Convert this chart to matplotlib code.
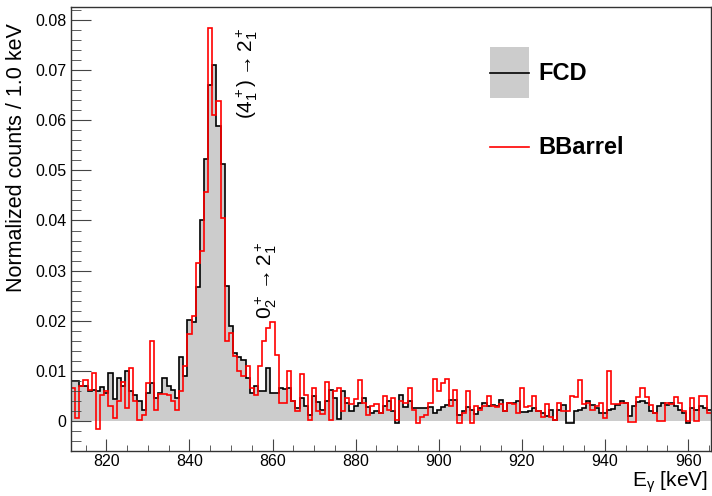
import numpy as np
import matplotlib
matplotlib.use('Agg')
import matplotlib.pyplot as plt
from matplotlib.ticker import MultipleLocator, FuncFormatter
from matplotlib.patches import Rectangle
from matplotlib.lines import Line2D

plt.rcParams['font.family'] = ['Liberation Sans', 'DejaVu Sans']
plt.rcParams['mathtext.fontset'] = 'custom'
plt.rcParams['mathtext.rm'] = 'Liberation Sans'
plt.rcParams['mathtext.it'] = 'Liberation Sans:italic'
plt.rcParams['mathtext.bf'] = 'Liberation Sans:bold'

# histogram range, 1 keV bins centred on 812 .. 965
E_LO, E_HI = 811.5, 965.5

# normalized counts per bin, in units of 1e-3
fcd = [
    7.9, 7.9, 7.0, 7.0, 6.0, 6.2, 5.9, 6.7, 5.5, 9.5,     # 812-821
    4.3, 8.5, 6.9, 9.9, 6.0, 5.2, 4.0, 2.2, 5.5, 7.5,     # 822-831
    4.5, 5.5, 8.5, 6.9, 6.2, 4.5, 12.8, 9.0, 20.1, 19.8,  # 832-841
    26.8, 40.0, 52.2, 67.0, 71.1, 58.9, 51.3, 27.0, 19.0, 13.5,  # 842-851
    12.8, 12.2, 8.5, 5.5, 7.0, 6.0, 6.0, 10.5, 5.5, 5.5,  # 852-861
    6.6, 6.3, 6.5, 4.0, 2.5, 4.5, 3.0, 1.2, 5.0, 3.8,     # 862-871
    2.2, 4.0, 6.2, 4.5, 0.3, 6.0, 3.5, 2.0, 3.0, 3.5,     # 872-881
    4.5, 2.8, 1.5, 2.0, 1.5, 3.0, 3.9, 2.0, -0.5, 5.2,    # 882-891
    2.7, 3.9, 2.5, 2.5, 2.5, 2.5, 2.7, 1.5, 2.2, 2.7,     # 892-901
    3.2, 4.1, 4.1, 1.2, 1.9, 2.7, 2.2, 1.4, 2.5, 3.5,     # 902-911
    2.9, 3.2, 2.9, 4.2, 1.9, 3.5, 3.5, 3.9, 1.7, 1.7,     # 912-921
    1.9, 2.5, 1.9, 1.5, 0.9, 2.2, 0.2, 2.2, 3.2, -0.5,    # 922-931
    -0.5, 1.9, 2.2, 2.5, 3.9, 3.2, 2.5, 1.5, 1.5, 2.2,    # 932-941
    2.3, 3.2, 3.9, 3.5, 0.9, 2.9, 3.7, 3.9, 3.5, 1.9,     # 942-951
    1.5, 2.9, 3.5, 3.2, 3.5, 2.9, 2.2, 1.5, -0.5, 2.5,    # 952-961
    2.2, 2.9, 2.5, 2.2,                                    # 962-965
]
bbarrel = [
    6.5, 0.5, 6.9, 8.2, 6.1, 9.5, -1.7, 5.2, 5.9, 2.9,    # 812-821
    0.5, 4.0, 7.7, 2.5, 10.5, 3.9, 0.1, 1.2, 7.5, 15.9,   # 822-831
    2.2, 5.3, 5.3, 5.2, 3.9, 2.2, 6.0, 10.9, 17.3, 21.0,  # 832-841
    31.5, 34.0, 45.6, 78.5, 61.0, 63.9, 40.5, 16.0, 17.5, 13.0,  # 842-851
    10.0, 8.9, 10.9, 6.6, 5.2, 10.9, 16.0, 18.5, 19.7, 13.2,     # 852-861
    3.5, 3.5, 9.9, 3.9, 1.9, 9.3, 5.2, 0.2, 6.5, 1.9,     # 862-871
    1.4, 7.7, 0.2, 5.9, 6.5, 1.9, 4.5, 3.4, 4.4, 8.2,     # 872-881
    3.5, 1.2, 2.9, 3.4, 1.5, 4.9, 2.2, 4.5, 0.2, 3.9,     # 882-891
    3.5, 6.5, 2.2, -0.5, 0.7, 1.2, 3.5, 8.3, 5.9, 7.5,    # 892-901
    8.3, 2.9, 6.1, -0.5, 1.5, 6.0, -0.5, 2.9, 2.2, 2.9,   # 902-911
    5.0, 3.0, 2.7, 3.4, 1.9, 3.5, 3.4, 1.5, 6.6, 2.7,     # 912-921
    2.9, 4.9, 1.9, 0.7, 3.4, 0.7, 0.2, 3.5, 1.9, 1.9,     # 922-931
    5.0, 4.8, 8.2, 3.4, 3.5, 2.2, 3.0, 3.5, 0.5, 9.9,     # 932-941
    3.4, 3.4, 3.5, 3.6, -0.3, -0.3, 4.8, 6.6, 4.8, 3.2,   # 942-951
    1.5, -0.1, -0.1, 3.5, 3.4, 4.8, 3.5, 1.9, -0.1, 4.5,  # 952-961
    -0.1, 5.0, 5.0, 1.5,                                   # 962-965
]

edges = np.arange(E_LO, E_HI + 0.5, 1.0)
fcd = np.array(fcd) * 1e-3
bbarrel = np.array(bbarrel) * 1e-3

fig = plt.figure(figsize=(7.12, 4.96), dpi=100)
ax = fig.add_axes([71 / 712, 45 / 496, 640 / 712, 444 / 496])

ax.stairs(fcd, edges, fill=True, color='#cccccc', baseline=0, lw=0)
ax.stairs(fcd, edges, color='black', lw=1.2, baseline=None)
ax.stairs(bbarrel, edges, color='red', lw=1.2, baseline=None)

ax.set_xlim(E_LO, E_HI)
ax.set_ylim(-0.006, 0.0826)

ax.xaxis.set_major_locator(MultipleLocator(20))
ax.xaxis.set_minor_locator(MultipleLocator(5))
ax.yaxis.set_major_locator(MultipleLocator(0.01))
ax.yaxis.set_minor_locator(MultipleLocator(0.002))
ax.yaxis.set_major_formatter(FuncFormatter(lambda v, p: '0' if abs(v) < 1e-9 else '%.2f' % v))

ax.tick_params(axis='both', which='both', direction='in', color='#444444',
               top=False, right=False, labelsize=11.5)
ax.tick_params(axis='x', which='major', length=8.6, pad=2.5)
ax.tick_params(axis='x', which='minor', length=4.3)
ax.tick_params(axis='y', which='major', length=14.4, pad=3.5)
ax.tick_params(axis='y', which='minor', length=7.2)
for s in ax.spines.values():
    s.set_color('#333333')
    s.set_linewidth(1.0)

# transition labels
ax.text(853.8, 0.0693, r'$(4^+_1){\rightarrow}2^+_1$', rotation=90,
        ha='center', va='center', fontsize=15)
ax.text(858.4, 0.0281, r'$0^+_2{\rightarrow}2^+_1$', rotation=90,
        ha='center', va='center', fontsize=15)

# axis titles
fig.text(17 / 712, 1 - 158 / 496, 'Normalized counts / 1.0 keV', rotation=90,
         ha='center', va='center', fontsize=15.5)
fig.text(708 / 712, 1 - 482 / 496, r'E$_{\mathregular{γ}}$ [keV]', ha='right',
         va='center', fontsize=15)

# legend
fig.add_artist(Rectangle((490 / 712, 1 - 98 / 496), 39 / 712, 51 / 496,
                         transform=fig.transFigure, color='#cccccc', lw=0))
fig.add_artist(Line2D([490 / 712, 529 / 712], [1 - 72.7 / 496] * 2,
                      transform=fig.transFigure, color='black', lw=1.2))
fig.add_artist(Line2D([490 / 712, 529 / 712], [1 - 146.7 / 496] * 2,
                      transform=fig.transFigure, color='red', lw=1.2))
fig.text(538 / 712, 1 - 73 / 496, 'FCD', ha='left', va='center',
         fontsize=17, fontweight='bold')
fig.text(538 / 712, 1 - 147 / 496, 'BBarrel', ha='left', va='center',
         fontsize=17, fontweight='bold')

fig.savefig('out.png', dpi=100)
